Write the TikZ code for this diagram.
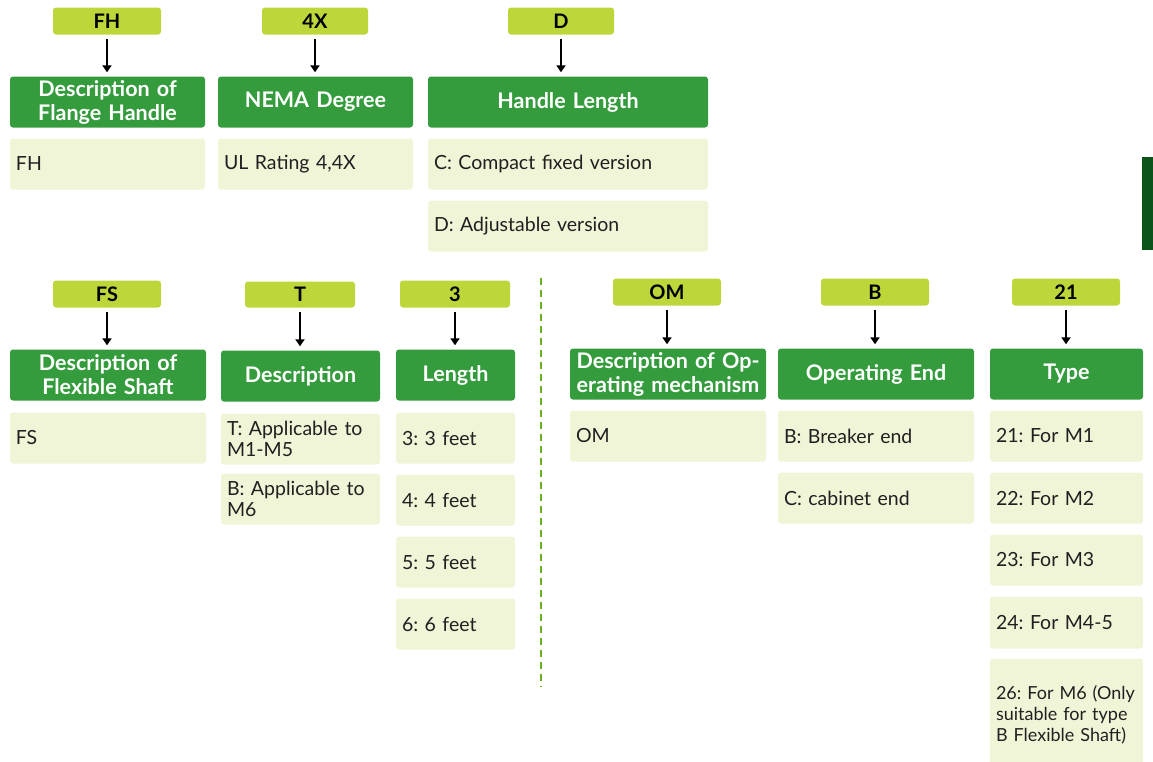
\documentclass[tikz,border=0pt]{standalone}
\usepackage{fontspec}
\setmainfont{Lato}
\usetikzlibrary{arrows.meta}
\frenchspacing
\definecolor{taglime}{HTML}{BDD63A}
\definecolor{hdrgreen}{HTML}{359C3E}
\definecolor{valbg}{HTML}{F0F5D7}
\definecolor{bargreen}{HTML}{0C5319}
\definecolor{dashgreen}{HTML}{6BB023}
\definecolor{txtgray}{HTML}{231F20}
\tikzset{
  boxbase/.style={rounded corners=3pt, inner ysep=0pt, draw=none},
  tagbox/.style={boxbase, fill=taglime, text=black, align=center, inner xsep=2pt, font=\bfseries\fontsize{20}{22}\selectfont},
  hdrbox/.style={boxbase, fill=hdrgreen, text=white, align=center, inner xsep=0pt, font=\bfseries\fontsize{21.5}{24}\selectfont},
  valbox/.style={boxbase, fill=valbg, text=txtgray, align=left, inner xsep=6pt, font=\fontsize{19.5}{21.5}\selectfont},
  smallval/.style={valbox, font=\fontsize{18}{21}\selectfont},
  arr/.style={-{Triangle[length=7pt,width=9pt]}, line width=2pt, black, shorten <=4pt, shorten >=4pt},
  sep/.style={dashgreen, line width=2pt, dash pattern=on 7pt off 5pt}
}
\newcommand\mkbox[7]{% style, name, x1, y1, x2, y2, text
  \pgfmathsetmacro\mybw{#5-#3}%
  \pgfmathsetmacro\mybh{#6-#4}%
  \pgfmathsetmacro\mytw{#5-#3-12}%
  \node[#1, minimum width=\mybw pt, minimum height=\mybh pt, text width=\mytw pt] (#2) at ({(#3+#5)/2},{(#4+#6)/2+1.5}) {#7};}
\begin{document}
\begin{tikzpicture}[x=1pt,y=-1pt]
\useasboundingbox (0,0) rectangle (1153,761);
% ---- top row
\mkbox{tagbox}{fht}{53}{6}{161}{33}{FH}
\mkbox{hdrbox}{fhh}{10}{75}{205}{126}{Description of\\Flange Handle}
\mkbox{valbox}{fhv}{10}{137}{205}{188}{FH}
\mkbox{tagbox}{nt}{262}{6}{368}{33}{4X}
\mkbox{hdrbox}{nh}{218}{75}{413}{126}{NEMA Degree}
\mkbox{valbox}{nv}{218}{137}{413}{188}{UL Rating 4,4X}
\mkbox{tagbox}{dt}{508}{6}{614}{33}{D}
\mkbox{hdrbox}{dh}{428}{75}{708}{126}{Handle Length}
\mkbox{valbox}{dv1}{428}{137}{708}{188}{C: Compact fixed version}
\mkbox{valbox}{dv2}{428}{199}{708}{250}{D: Adjustable version}
\draw[arr] (fht) -- (fht |- fhh.north);
\draw[arr] (nt) -- (nt |- nh.north);
\draw[arr] (dt) -- (dt |- dh.north);
\fill[bargreen] (1142,157) rectangle (1153,250);
% ---- second row, left
\mkbox{tagbox}{fst}{53}{279}{161}{306}{FS}
\mkbox{hdrbox}{fsh}{10}{348}{206}{399}{Description of\\Flexible Shaft}
\mkbox{valbox}{fsv}{10}{411}{206}{462}{FS}
\mkbox{tagbox}{tt}{245}{280}{355}{306}{T}
\mkbox{hdrbox}{th}{221}{349}{380}{400}{Description}
\mkbox{valbox}{tv1}{221}{412}{380}{463}{T: Applicable to\\M1-M5}
\mkbox{valbox}{tv2}{221}{472}{380}{523}{B: Applicable to\\M6}
\mkbox{tagbox}{lt}{400}{279}{510}{306}{3}
\mkbox{hdrbox}{lh}{396}{348}{515}{399}{Length}
\mkbox{valbox}{lv1}{396}{411}{515}{462}{3: 3 feet}
\mkbox{valbox}{lv2}{396}{473}{515}{524}{4: 4 feet}
\mkbox{valbox}{lv3}{396}{535}{515}{586}{5: 5 feet}
\mkbox{valbox}{lv4}{396}{597}{515}{648}{6: 6 feet}
\draw[arr] (fst) -- (fst |- fsh.north);
\draw[arr] (tt) -- (tt |- th.north);
\draw[arr] (lt) -- (lt |- lh.north);
% ---- separator
\coordinate (sepa) at (541,278);
\coordinate (sepb) at (541,687);
\draw[sep] (sepa) -- (sepb);
% ---- second row, right
\mkbox{tagbox}{omt}{613}{277}{721}{304}{OM}
\mkbox{hdrbox}{omh}{570}{347}{766}{398}{Description of Op-\\erating mechanism}
\mkbox{valbox}{omv}{570}{409}{766}{460}{OM}
\mkbox{tagbox}{bt}{821}{277}{929}{304}{B}
\mkbox{hdrbox}{bh}{778}{347}{974}{398}{Operating End}
\mkbox{valbox}{bv1}{778}{409}{974}{460}{B: Breaker end}
\mkbox{valbox}{bv2}{778}{471}{974}{522}{C: cabinet end}
\mkbox{tagbox}{ytt}{1012}{277}{1120}{304}{21}
\mkbox{hdrbox}{yth}{990}{347}{1143}{398}{Type}
\mkbox{valbox}{ytv1}{990}{409}{1143}{460}{21: For M1}
\mkbox{valbox}{ytv2}{990}{471}{1143}{522}{22: For M2}
\mkbox{valbox}{ytv3}{990}{533}{1143}{584}{23: For M3}
\mkbox{valbox}{ytv4}{990}{595}{1143}{647}{24: For M4-5}
\mkbox{smallval}{ytv5}{990}{657}{1143}{769}{26: For M6 (Only\\suitable for type\\B Flexible Shaft)}
\draw[arr] (omt) -- (omt |- omh.north);
\draw[arr] (bt) -- (bt |- bh.north);
\draw[arr] (ytt) -- (ytt |- yth.north);
\end{tikzpicture}
\end{document}
